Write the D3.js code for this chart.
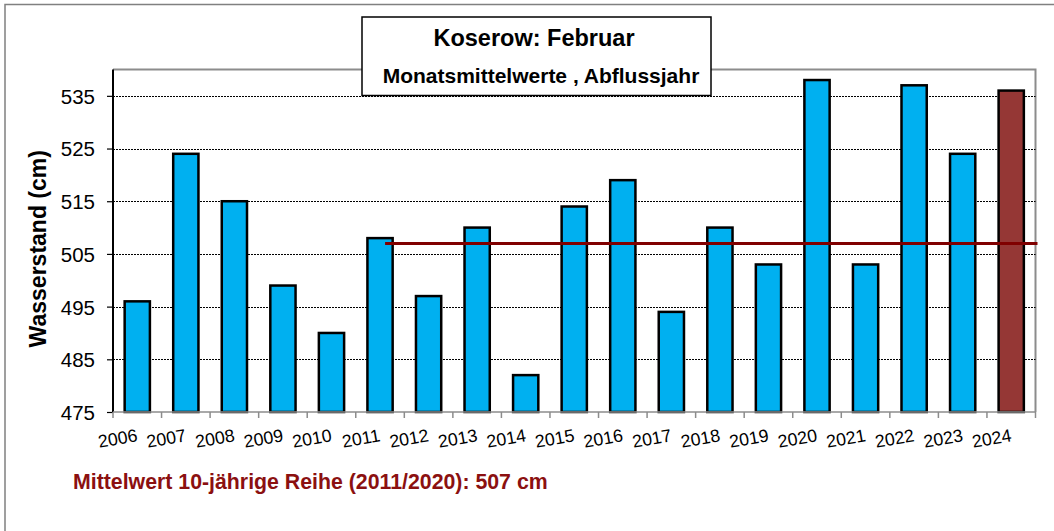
<!DOCTYPE html>
<html>
<head>
<meta charset="utf-8">
<script src="https://cdn.jsdelivr.net/npm/d3@7/dist/d3.min.js"></script>
<style>
  html, body { margin: 0; padding: 0; background: #fff; }
  svg { display: block; font-family: "Liberation Sans", Arial, sans-serif; }
</style>
</head>
<body>
<svg id="chart" width="1054" height="531"></svg>
<script>
const years = ["2006","2007","2008","2009","2010","2011","2012","2013","2014","2015","2016","2017","2018","2019","2020","2021","2022","2023","2024"];
const values = [496, 524, 515, 499, 490, 508, 497, 510, 482, 514, 519, 494, 510, 503, 538, 503, 537, 524, 536];
const yTicks = [475, 485, 495, 505, 515, 525, 535];
const meanValue = 507;
const meanStartYear = "2011";
const highlightYear = "2024";
const titleText = "Koserow: Februar";
const subtitleText = "Monatsmittelwerte , Abflussjahr";
const yLabel = "Wasserstand (cm)";
const noteText = "Mittelwert 10-jährige Reihe (2011/2020): 507 cm";

const svg = d3.select("#chart");
const plot = { left: 113, top: 69.5, right: 1035.5, bottom: 412 };

// outer border
svg.append("rect")
  .attr("x", 5).attr("y", 4.5).attr("width", 1060).attr("height", 540)
  .attr("fill", "#fff").attr("stroke", "#808080").attr("stroke-width", 1.5);

const x = d3.scaleBand().domain(years).range([plot.left, plot.right]).paddingInner(0.48).paddingOuter(0.24);
const y = d3.scaleLinear().domain([475, 540]).range([plot.bottom, plot.top]);

// plot area border (top & right gray)
svg.append("path")
  .attr("d", `M${plot.left},${plot.top}H${plot.right}V${plot.bottom}`)
  .attr("fill", "none").attr("stroke", "#8c8c8c").attr("stroke-width", 2);

// gridlines
svg.append("g").selectAll("line").data(yTicks.slice(1)).join("line")
  .attr("x1", plot.left).attr("x2", plot.right)
  .attr("y1", d => Math.round(y(d)) + 0.5).attr("y2", d => Math.round(y(d)) + 0.5)
  .attr("stroke", "#000").attr("stroke-width", 1).attr("stroke-dasharray", "2,1");

// bars
svg.append("g").selectAll("rect").data(years.map((yr, i) => ({ yr, v: values[i] }))).join("rect")
  .attr("x", d => x(d.yr))
  .attr("y", d => y(d.v))
  .attr("width", x.bandwidth())
  .attr("height", d => y(475) - y(d.v))
  .attr("fill", d => d.yr === highlightYear ? "#953735" : "#00B0F0")
  .attr("stroke", "#000").attr("stroke-width", 2.5);

// mean line
const step = x.step();
const startX = x(meanStartYear) + x.bandwidth() * 0.7;
svg.append("line")
  .attr("x1", startX).attr("x2", plot.right + 2)
  .attr("y1", y(meanValue)).attr("y2", y(meanValue))
  .attr("stroke", "#800000").attr("stroke-width", 3);

// y axis
const yAxis = d3.axisLeft(y).tickValues(yTicks).tickSize(6).tickPadding(12).tickFormat(d3.format("d"));
const gy = svg.append("g").attr("transform", `translate(${plot.left},0)`).call(yAxis);
gy.select(".domain").attr("stroke", "#000").attr("stroke-width", 2)
  .attr("d", `M0,${plot.top}V${plot.bottom}`);
gy.selectAll(".tick line").attr("stroke", "#000").attr("stroke-width", 1.2);
gy.selectAll(".tick text").attr("font-size", 20.5).attr("fill", "#000")
  .attr("font-family", "'Liberation Sans', Arial, sans-serif").attr("dy", "0.36em");

// x axis line and ticks between categories
svg.append("line").attr("x1", plot.left).attr("x2", plot.right)
  .attr("y1", plot.bottom).attr("y2", plot.bottom)
  .attr("stroke", "#8c8c8c").attr("stroke-width", 1.5);
const bounds = d3.range(years.length + 1).map(i => plot.left + i * step);
svg.append("g").selectAll("line").data(bounds).join("line")
  .attr("x1", d => d).attr("x2", d => d)
  .attr("y1", plot.bottom).attr("y2", plot.bottom + 6)
  .attr("stroke", "#8c8c8c").attr("stroke-width", 1.5);

// x labels, rotated
svg.append("g").selectAll("text").data(years).join("text")
  .attr("transform", d => `translate(${x(d) + x.bandwidth() / 2 + 1},${plot.bottom + 29}) rotate(-10)`)
  .attr("text-anchor", "end")
  .attr("font-size", 17.8).attr("fill", "#000")
  .text(d => d);

// y label
svg.append("text")
  .attr("transform", `translate(46,${(plot.top + plot.bottom) / 2 + 8}) rotate(-90)`)
  .attr("text-anchor", "middle").attr("font-size", 23).attr("font-weight", "bold")
  .text(yLabel);

// title box
svg.append("rect").attr("x", 362).attr("y", 17).attr("width", 349).attr("height", 78.5)
  .attr("fill", "#fff").attr("stroke", "#000").attr("stroke-width", 1.5);
svg.append("text").attr("x", 534).attr("y", 46)
  .attr("text-anchor", "middle").attr("font-size", 23.5).attr("font-weight", "bold")
  .text(titleText);
svg.append("text").attr("x", 541).attr("y", 83)
  .attr("text-anchor", "middle").attr("font-size", 21).attr("font-weight", "bold")
  .text(subtitleText);

// note
svg.append("text").attr("x", 73).attr("y", 489)
  .attr("font-size", 21.3).attr("font-weight", "bold").attr("fill", "#8B1010")
  .text(noteText);
</script>
</body>
</html>
